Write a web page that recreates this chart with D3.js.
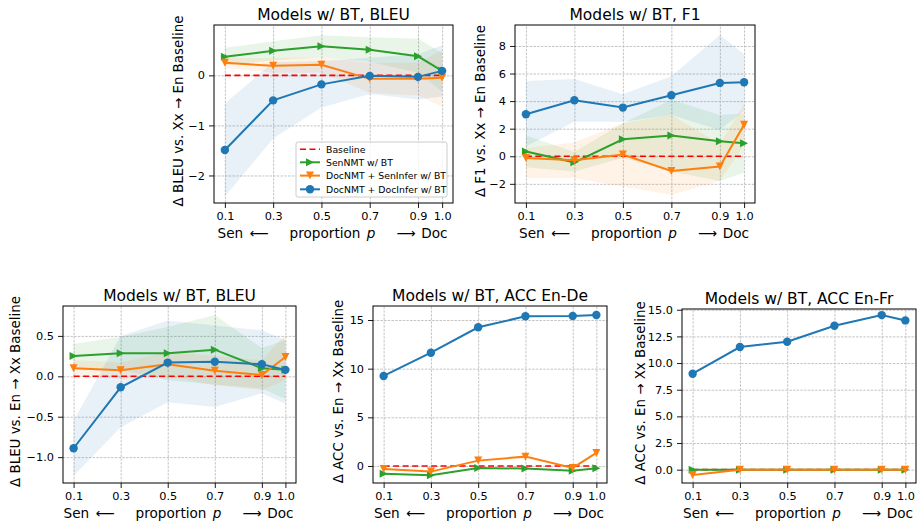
<!DOCTYPE html>
<html lang="en">
<head>
  <meta charset="utf-8">
  <script src="https://d3js.org/d3.v7.min.js"></script>
  <style>
    body { margin: 0; background: #fff; }
    text { font-family: "DejaVu Sans", sans-serif; fill: #000; }
  </style>
</head>
<body>
<script>
// x positions (proportion p) and tick labels
const props = [0.1, 0.3, 0.5, 0.7, 0.9, 1.0];
const xTickLabels = ["0.1", "0.3", "0.5", "0.7", "0.9", "1.0"];

// series names / colours
const seriesNames = ["SenNMT w/ BT", "DocNMT + SenInfer w/ BT", "DocNMT + DocInfer w/ BT"];
const seriesColors = ["#2ca02c", "#ff7f0e", "#1f77b4"];
const seriesMarkers = ["right", "down", "circle"];

// panel 1: BLEU Xx->En
const p1Sen = [0.37, 0.49, 0.58, 0.51, 0.38, 0.09];
const p1SenLo = [0.20, 0.30, 0.36, 0.27, 0.05, -0.32];
const p1SenHi = [0.55, 0.68, 0.80, 0.76, 0.73, 0.45];
const p1DocSen = [0.25, 0.19, 0.21, -0.07, -0.07, -0.05];
const p1DocSenLo = [0.15, 0.05, 0.05, -0.35, -0.40, -0.62];
const p1DocSenHi = [0.35, 0.34, 0.36, 0.25, 0.25, 0.50];
const p1DocDoc = [-1.49, -0.50, -0.18, -0.01, -0.03, 0.09];
const p1DocDocLo = [-2.42, -1.26, -0.64, -0.37, -0.48, -0.42];
const p1DocDocHi = [-0.56, 0.26, 0.28, 0.35, 0.42, 0.60];

// panel 2: F1 Xx->En
const p2Sen = [0.34, -0.44, 1.23, 1.50, 1.09, 0.94];
const p2SenLo = [-0.8, -1.1, -0.1, -1.1, -1.8, -1.2];
const p2SenHi = [1.5, 0.3, 2.4, 4.1, 3.0, 3.1];
const p2DocSen = [-0.12, -0.29, 0.12, -1.07, -0.75, 2.29];
const p2DocSenLo = [-1.6, -1.6, -2.2, -2.8, -1.8, 0.8];
const p2DocSenHi = [0.6, 1.0, 2.4, 3.0, 0.9, 3.8];
const p2DocDoc = [3.05, 4.06, 3.53, 4.42, 5.32, 5.37];
const p2DocDocLo = [0.7, 2.5, 2.5, 3.0, 1.9, 3.3];
const p2DocDocHi = [5.45, 5.6, 4.5, 5.8, 8.8, 7.4];

// panel 3: BLEU En->Xx
const p3Sen = [0.25, 0.285, 0.285, 0.33, 0.10, 0.08];
const p3SenLo = [0.10, 0.08, -0.05, -0.10, -0.15, -0.28];
const p3SenHi = [0.40, 0.49, 0.61, 0.76, 0.35, 0.45];
const p3DocSen = [0.10, 0.074, 0.15, 0.07, 0.016, 0.24];
const p3DocSenLo = [0.0, -0.03, 0.0, -0.11, -0.17, -0.05];
const p3DocSenHi = [0.20, 0.17, 0.30, 0.25, 0.20, 0.52];
const p3DocDoc = [-0.89, -0.136, 0.17, 0.18, 0.15, 0.08];
const p3DocDocLo = [-1.23, -0.63, -0.32, -0.38, -0.21, -0.34];
const p3DocDocHi = [-0.55, 0.50, 0.69, 0.63, 0.57, 0.45];

// panel 4: ACC En-De
const p4Sen = [-0.79, -0.96, -0.2, -0.27, -0.5, -0.24];
const p4DocSen = [-0.3, -0.58, 0.55, 0.96, -0.2, 1.34];
const p4DocDoc = [9.25, 11.64, 14.25, 15.38, 15.41, 15.51];

// panel 5: ACC En-Fr
const p5Sen = [0.0, 0, 0, 0, 0, 0];
const p5DocSen = [-0.5, 0, 0, 0, 0, 0];
const p5DocDoc = [9.0, 11.5, 12.0, 13.5, 14.5, 14.0];

// y ticks
const p1YTicks = [-2, -1, 0];
const p2YTicks = [-2, 0, 2, 4, 6, 8];
const p3YTicks = [-1.0, -0.5, 0.0, 0.5];
const p4YTicks = [0, 5, 10, 15];
const p5YTicks = [0, 2.5, 5, 7.5, 10, 12.5, 15];

const panels = [
  {title: "Models w/ BT, BLEU", ylabel: "Δ BLEU vs. Xx → En Baseline", labX: 178,
   box: [214, 453, 25, 203], ydom: [-2.55, 1.006], yticks: p1YTicks, fmt: d3.format("d"),
   series: [[p1Sen, p1SenLo, p1SenHi], [p1DocSen, p1DocSenLo, p1DocSenHi], [p1DocDoc, p1DocDocLo, p1DocDocHi]],
   legend: true},
  {title: "Models w/ BT, F1", ylabel: "Δ F1 vs. Xx → En Baseline", labX: 480,
   box: [515, 755, 25, 203], ydom: [-3.39, 9.52], yticks: p2YTicks, fmt: d3.format("d"),
   series: [[p2Sen, p2SenLo, p2SenHi], [p2DocSen, p2DocSenLo, p2DocSenHi], [p2DocDoc, p2DocDocLo, p2DocDocHi]]},
  {title: "Models w/ BT, BLEU", ylabel: "Δ BLEU vs. En → Xx Baseline", labX: 15,
   box: [63, 296, 306, 483], ydom: [-1.32, 0.87], yticks: p3YTicks, fmt: d3.format(".1f"),
   series: [[p3Sen, p3SenLo, p3SenHi], [p3DocSen, p3DocSenLo, p3DocSenHi], [p3DocDoc, p3DocDocLo, p3DocDocHi]]},
  {title: "Models w/ BT, ACC En-De", ylabel: "Δ ACC vs. En → Xx Baseline", labX: 338,
   box: [373, 607, 306, 483], ydom: [-1.75, 16.44], yticks: p4YTicks, fmt: d3.format("d"),
   series: [[p4Sen], [p4DocSen], [p4DocDoc]]},
  {title: "Models w/ BT, ACC En-Fr", ylabel: "Δ ACC vs. En → Xx Baseline", labX: 640,
   box: [682, 916, 309, 483], ydom: [-1.25, 15.07], yticks: p5YTicks, fmt: d3.format(".1f"),
   series: [[p5Sen], [p5DocSen], [p5DocDoc]]}
];

const svg = d3.select("body").append("svg")
  .attr("width", 917).attr("height", 521);

// marker drawer
function marker(g, type, color, x, y) {
  const s = 4;
  if (type === "circle") {
    g.append("circle").attr("cx", x).attr("cy", y).attr("r", 4.2).attr("fill", color);
  } else {
    const pts = type === "down"
      ? [[-s, -s], [s, -s], [0, s]]
      : [[-s, -s], [-s, s], [s, 0]];
    g.append("path")
      .attr("d", "M" + pts.map(p => (x + p[0]) + "," + (y + p[1])).join("L") + "Z")
      .attr("fill", color);
  }
}

panels.forEach(p => {
  const [l, r, t, b] = p.box;
  const x = d3.scaleLinear().domain([0.055, 1.045]).range([l, r]);
  const y = d3.scaleLinear().domain(p.ydom).range([b, t]);
  const g = svg.append("g");

  //grid
  g.append("g").attr("transform", "translate(0," + b + ")")
    .call(d3.axisBottom(x).tickValues(props).tickSize(-(b - t)).tickFormat(""))
    .call(a => a.select(".domain").remove())
    .selectAll("line").attr("stroke", "#c4c4c4").attr("stroke-dasharray", "2.5,1.2").attr("stroke-width", 1);
  g.append("g").attr("transform", "translate(" + l + ",0)")
    .call(d3.axisLeft(y).tickValues(p.yticks).tickSize(-(r - l)).tickFormat(""))
    .call(a => a.select(".domain").remove())
    .selectAll("line").attr("stroke", "#c4c4c4").attr("stroke-dasharray", "2.5,1.2").attr("stroke-width", 1);

  const clip = "clip" + l + "_" + t;
  svg.append("clipPath").attr("id", clip).append("rect")
    .attr("x", l).attr("y", t).attr("width", r - l).attr("height", b - t);
  const pg = g.append("g").attr("clip-path", "url(#" + clip + ")");

  // bands
  p.series.forEach((s, i) => {
    if (s.length < 3) return;
    const area = d3.area().x((d, k) => x(props[k])).y0((d, k) => y(s[1][k])).y1((d, k) => y(s[2][k]));
    pg.append("path").datum(s[0]).attr("d", area)
      .attr("fill", seriesColors[i]).attr("fill-opacity", 0.1);
  });

  // baseline
  pg.append("line").attr("x1", x(props[0])).attr("x2", x(props[5]))
    .attr("y1", y(0)).attr("y2", y(0))
    .attr("stroke", "#ff0000").attr("stroke-width", 1.6).attr("stroke-dasharray", "6,3.5");

  // lines + markers
  p.series.forEach((s, i) => {
    const line = d3.line().x((d, k) => x(props[k])).y(d => y(d));
    pg.append("path").datum(s[0]).attr("d", line)
      .attr("fill", "none").attr("stroke", seriesColors[i]).attr("stroke-width", 2);
    s[0].forEach((v, k) => marker(pg, seriesMarkers[i], seriesColors[i], x(props[k]), y(v)));
  });

  // axes
  const xa = g.append("g").attr("transform", "translate(0," + b + ")")
    .call(d3.axisBottom(x).tickValues(props).tickFormat((d, k) => xTickLabels[k]).tickSize(5).tickPadding(4));
  const ya = g.append("g").attr("transform", "translate(" + l + ",0)")
    .call(d3.axisLeft(y).tickValues(p.yticks).tickFormat(p.fmt).tickSize(5).tickPadding(4));
  [xa, ya].forEach(a => {
    a.select(".domain").remove();
    a.selectAll("text").attr("font-size", "11.3px").style("font-family", "DejaVu Sans");
    a.selectAll("line").attr("stroke", "#000").attr("stroke-width", 0.9);
  });
  g.append("rect").attr("x", l).attr("y", t).attr("width", r - l).attr("height", b - t)
    .attr("fill", "none").attr("stroke", "#000").attr("stroke-width", 1);

  // titles and labels
  const cx = (l + r) / 2;
  g.append("text").attr("x", cx).attr("y", t - 5).attr("text-anchor", "middle")
    .attr("font-size", "15.5px").text(p.title);
  g.append("text").attr("transform", "translate(" + p.labX + "," + ((t + b) / 2 - 3) + ") rotate(-90)")
    .attr("text-anchor", "middle").attr("dominant-baseline", "central")
    .attr("font-size", "13.4px").text(p.ylabel);
  const ly = b + 35;
  const fs = "13.6px";
  g.append("text").attr("x", cx - 116).attr("y", ly).attr("font-size", fs).text("Sen");
  g.append("text").attr("x", cx - 84).attr("y", ly).attr("font-size", fs)
    .attr("textLength", 19).attr("lengthAdjust", "spacingAndGlyphs").text("⟵");
  const mid = g.append("text").attr("x", cx - 1).attr("y", ly).attr("text-anchor", "middle").attr("font-size", fs);
  mid.append("tspan").text("proportion ");
  mid.append("tspan").attr("dx", 2).attr("font-style", "italic").text("p");
  g.append("text").attr("x", cx + 63).attr("y", ly).attr("font-size", fs)
    .attr("textLength", 19).attr("lengthAdjust", "spacingAndGlyphs").text("⟶");
  g.append("text").attr("x", cx + 114).attr("y", ly).attr("text-anchor", "end").attr("font-size", fs).text("Doc");

  // legend
  if (p.legend) {
    const lg = g.append("g");
    lg.append("rect").attr("x", 296).attr("y", 142).attr("width", 151).attr("height", 55).attr("rx", 2)
      .attr("fill", "#fff").attr("fill-opacity", 0.8).attr("stroke", "#cccccc").attr("stroke-width", 1);
    const rows = [149.3, 162.3, 175.6, 189.3];
    lg.append("line").attr("x1", 300).attr("x2", 320).attr("y1", rows[0]).attr("y2", rows[0])
      .attr("stroke", "#ff0000").attr("stroke-width", 1.6).attr("stroke-dasharray", "6,3.5");
    lg.append("text").attr("x", 326).attr("y", rows[0]).attr("dominant-baseline", "central")
      .attr("font-size", "9.3px").text("Baseline");
    seriesNames.forEach((n, i) => {
      const yy = rows[i + 1];
      lg.append("line").attr("x1", 300).attr("x2", 320).attr("y1", yy).attr("y2", yy)
        .attr("stroke", seriesColors[i]).attr("stroke-width", 2);
      marker(lg, seriesMarkers[i], seriesColors[i], 310, yy);
      lg.append("text").attr("x", 326).attr("y", yy).attr("dominant-baseline", "central")
        .attr("font-size", "9.3px").text(n);
    });
  }
});
</script>
</body>
</html>
